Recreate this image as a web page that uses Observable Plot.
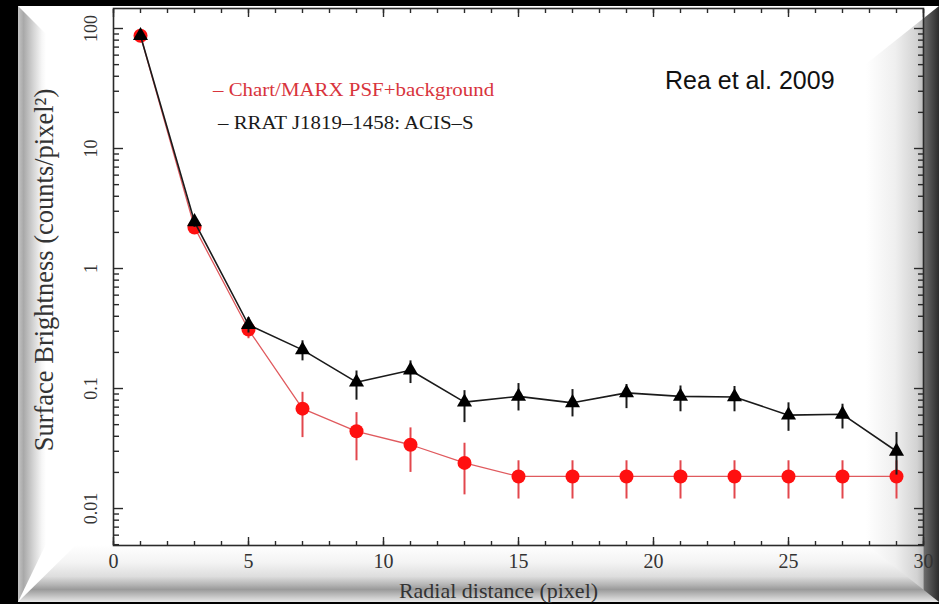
<!DOCTYPE html>
<html>
<head>
<meta charset="utf-8">
<script src="https://cdn.jsdelivr.net/npm/d3@7"></script>
<script src="https://cdn.jsdelivr.net/npm/@observablehq/plot@0.6"></script>
<style>
  html, body { margin: 0; padding: 0; background: #000; overflow: hidden; }
  #wrap { position: relative; width: 939px; height: 604px; background: #000; }
  .panel { position: absolute; left: 18px; top: 6px; width: 921px; height: 596px; background: #fff; }
  .bev { position: absolute; }
  #bevL { left: 18px; top: 6px; width: 28px; height: 596px;
    clip-path: polygon(0 0, 100% 28px, 100% calc(100% - 58px), 0 100%);
    background: linear-gradient(to right, #c4c4c4 0%, #a9a9a9 20%, #d4d4d4 55%, #f6f6f6 85%, #fff 100%); }
  #bevB { left: 18px; top: 545px; width: 921px; height: 57px;
    clip-path: polygon(0 100%, 58px 0, calc(100% - 14px) 0, 100% 100%);
    background: linear-gradient(to bottom, #fff 0%, #f4f4f4 30%, #dedede 55%, #b4b4b4 70%, #9a9a9a 78%, #bdbdbd 88%, #e8e8e8 100%); }
  #bevR { left: 866px; top: 6px; width: 73px; height: 596px;
    clip-path: polygon(100% 0, 0 58px, 0 calc(100% - 58px), 100% 100%);
    background: linear-gradient(to right, #fff 0%, #efefef 40%, #d2d2d2 70%, #bcbcbc 78%, #6a6a6a 80%, #4a4a4a 90%, #2c2c2c 100%); }
  #chart { position: absolute; left: 0; top: 0; }
  .leg { position: absolute; font-family: "Liberation Serif", "DejaVu Serif", serif; font-size: 19px; white-space: nowrap; transform-origin: 0 0; transform: scaleX(1.1); }
  #note { position: absolute; left: 665px; top: 66px; font-family: "Liberation Sans", Arial, sans-serif; font-size: 25px; color: #111; white-space: nowrap; }
</style>
</head>
<body>
<div id="wrap">
  <div class="panel"></div>
  <div class="bev" id="bevL"></div>
  <div class="bev" id="bevB"></div>
  <div class="bev" id="bevR"></div>
  <div id="chart"></div>
  <div class="leg" style="left:213px; top:79px; color:#d8343c;">– Chart/MARX PSF+background</div>
  <div class="leg" style="left:218px; top:112px; color:#1a1a1a;">– RRAT J1819–1458: ACIS–S</div>
  <div id="note">Rea et al. 2009</div>
</div>
<script>
// ---- data ----
const radius = [1, 3, 5, 7, 9, 11, 13, 15, 17, 19, 21, 23, 25, 27, 29];

const modelValue = [87, 2.2, 0.31, 0.068, 0.044, 0.034, 0.024, 0.0185, 0.0185, 0.0185, 0.0185, 0.0185, 0.0185, 0.0185, 0.0185];
const modelLow   = [85, 2.0, 0.26, 0.039, 0.025, 0.020, 0.013, 0.012, 0.012, 0.012, 0.012, 0.012, 0.012, 0.012, 0.012];
const modelHigh  = [89, 2.4, 0.36, 0.093, 0.063, 0.047, 0.035, 0.025, 0.025, 0.025, 0.025, 0.025, 0.025, 0.025, 0.025];

const rratValue = [87, 2.45, 0.34, 0.21, 0.113, 0.142, 0.077, 0.086, 0.076, 0.092, 0.086, 0.085, 0.060, 0.061, 0.030];
const rratLow   = [85, 2.2, 0.29, 0.17, 0.080, 0.110, 0.052, 0.065, 0.058, 0.068, 0.064, 0.064, 0.044, 0.046, 0.019];
const rratHigh  = [89, 2.7, 0.39, 0.25, 0.140, 0.170, 0.096, 0.110, 0.098, 0.108, 0.105, 0.104, 0.076, 0.074, 0.043];

const xMajorTicks = [0, 5, 10, 15, 20, 25, 30];
const xMinorTicks = d3.range(0, 31);
const yMajorTicks = [0.01, 0.1, 1, 10, 100];
const yMajorLabels = ["0.01", "0.1", "1", "10", "100"];
const yMinorTicks = [0.005, 0.006, 0.007, 0.008, 0.009,
  0.02, 0.03, 0.04, 0.05, 0.06, 0.07, 0.08, 0.09,
  0.2, 0.3, 0.4, 0.5, 0.6, 0.7, 0.8, 0.9,
  2, 3, 4, 5, 6, 7, 8, 9,
  20, 30, 40, 50, 60, 70, 80, 90];

const xTitle = "Radial distance (pixel)";
const yTitle = "Surface Brightness (counts/pixel²)";

// ---- tables ----
const model = radius.map((r, i) => ({r, v: modelValue[i], lo: modelLow[i], hi: modelHigh[i]}));
const rrat = radius.map((r, i) => ({r, v: rratValue[i], lo: rratLow[i], hi: rratHigh[i]}));

const serif = "Liberation Serif, DejaVu Serif, serif";
const axisInk = "#2a2a2a";
const tickOpts = {fill: "none", stroke: axisInk, strokeWidth: 1.4, label: null};

const chart = Plot.plot({
  width: 939,
  height: 604,
  marginLeft: 113,
  marginRight: 16,
  marginTop: 8,
  marginBottom: 59,
  x: {domain: [0, 30], axis: null},
  y: {type: "log", domain: [0.00492, 146.8], axis: null},
  style: {background: "transparent", overflow: "visible"},
  marks: [
    // ticks (inward, mirrored)
    Plot.axisX(xMinorTicks, {anchor: "bottom", tickSize: -4, ...tickOpts}),
    Plot.axisX(xMajorTicks, {anchor: "bottom", tickSize: -8, ...tickOpts}),
    Plot.axisX(xMinorTicks, {anchor: "top", tickSize: -4, ...tickOpts}),
    Plot.axisX(xMajorTicks, {anchor: "top", tickSize: -8, ...tickOpts}),
    Plot.axisY(yMinorTicks, {anchor: "left", tickSize: -6, ...tickOpts}),
    Plot.axisY(yMajorTicks, {anchor: "left", tickSize: -10, ...tickOpts}),
    Plot.axisY(yMinorTicks, {anchor: "right", tickSize: -6, ...tickOpts}),
    Plot.axisY(yMajorTicks, {anchor: "right", tickSize: -10, ...tickOpts}),
    // tick labels
    Plot.text(xMajorTicks, {x: d => d, frameAnchor: "bottom", dy: 16, text: d => String(d),
      fontFamily: serif, fontSize: 20, fill: "#333", textAnchor: "middle", lineAnchor: "middle"}),
    Plot.text(yMajorTicks, {y: d => d, frameAnchor: "left", dx: -22, rotate: -90,
      text: (d, i) => yMajorLabels[i], fontFamily: serif, fontSize: 18, fill: "#333",
      textAnchor: "middle", lineAnchor: "middle"}),
    // axis titles
    Plot.text([xTitle], {frameAnchor: "bottom", dx: -20, dy: 45, text: d => d,
      fontFamily: serif, fontSize: 22, fill: "#333", textAnchor: "middle", lineAnchor: "middle"}),
    Plot.text([yTitle], {frameAnchor: "left", dx: -69, dy: -7, rotate: -90, text: d => d,
      fontFamily: serif, fontSize: 26.5, fill: "#333", textAnchor: "middle", lineAnchor: "middle"}),
    // model (red)
    Plot.ruleX(model, {x: "r", y1: "lo", y2: "hi", stroke: "#e2474d", strokeWidth: 2}),
    Plot.line(model, {x: "r", y: "v", stroke: "#e05a5e", strokeWidth: 1.3}),
    Plot.dot(model, {x: "r", y: "v", r: 7, fill: "#ff1010", stroke: "none"}),
    // RRAT (black)
    Plot.ruleX(rrat, {x: "r", y1: "lo", y2: "hi", stroke: "#1a1a1a", strokeWidth: 2}),
    Plot.line(rrat, {x: "r", y: "v", stroke: "#1a1a1a", strokeWidth: 1.6}),
    Plot.dot(rrat, {x: "r", y: "v", r: 5.6, symbol: "triangle", fill: "#000", stroke: "none"}),
    Plot.frame({stroke: axisInk, strokeWidth: 1.6})
  ]
});
document.getElementById("chart").appendChild(chart);
</script>
</body>
</html>
